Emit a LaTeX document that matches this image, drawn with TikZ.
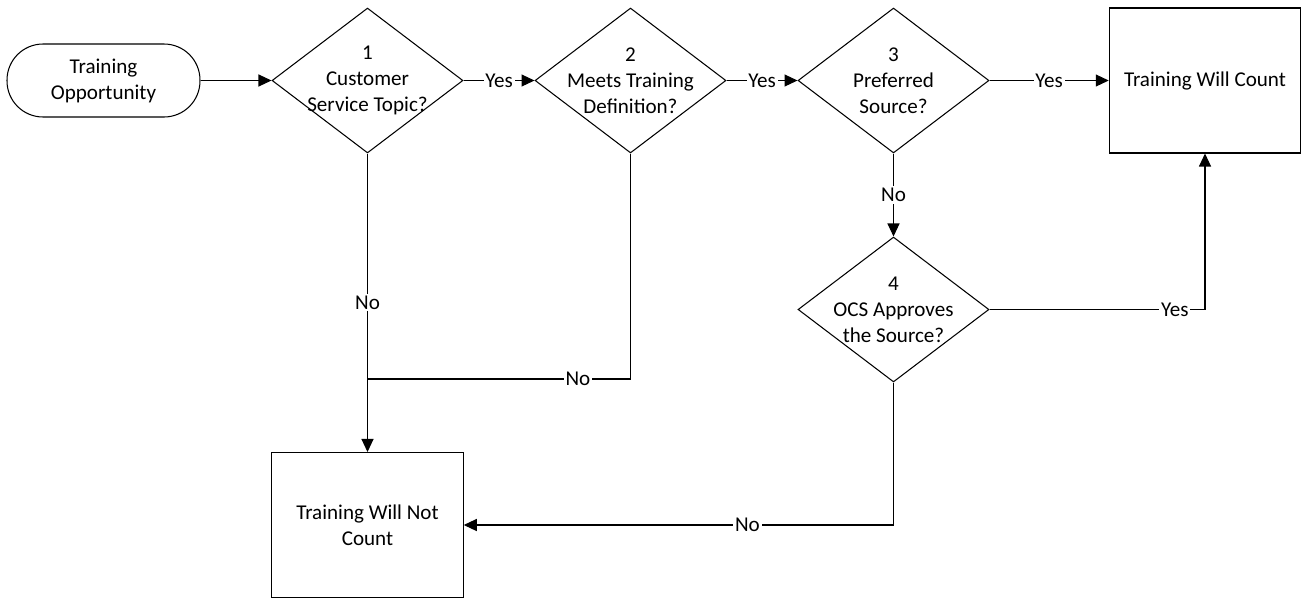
\documentclass[tikz,border=0pt]{standalone}
\usepackage{fontspec}
\setmainfont{Carlito}
\usetikzlibrary{shapes.geometric,arrows.meta}

\tikzset{
  term/.style={draw, rectangle, rounded corners=0.72cm, minimum width=3.86cm, minimum height=1.46cm, align=center},
  decision/.style={draw, diamond, minimum width=3.82cm, minimum height=2.9cm, inner sep=0pt},
  outcome/.style={draw, rectangle, minimum width=3.83cm, minimum height=2.9cm, align=center},
  answer/.style={fill=white, inner sep=1pt},
}

\begin{document}
\begin{tikzpicture}[x=0.02cm, y=-0.02cm, line width=0.6pt,
    font=\fontsize{12}{14.8}\selectfont,
    >={Triangle[length=0.26cm, width=0.24cm]}]
  \useasboundingbox (0,0) rectangle (1308,599);
  % define the nodes
  \node[term] (start) at (103.5,80.5) {Training\\Opportunity};
  \node[decision, label={[align=center]center:{1\\Customer\\Service Topic?}}] (d1) at (367.5,80.5) {};
  \node[decision, label={[align=center]center:{2\\Meets Training\\Definition?}}] (d2) at (630.5,80.5) {};
  \node[decision, label={[align=center]center:{3\\Preferred\\Source?}}] (d3) at (893.5,80.5) {};
  \node[decision, label={[align=center]center:{4\\OCS Approves\\the Source?}}] (d4) at (893.5,309.5) {};
  \node[outcome] (count) at (1205,80.5) {Training Will Count};
  \node[outcome] (notcount) at (367.5,525) {Training Will Not\\Count};
  \coordinate (join) at (367.5,379);
  % draw the connectors
  \draw[->] (start) -- (d1);
  \draw[->] (d1) -- node[answer]{Yes} (d2);
  \draw[->] (d2) -- node[answer]{Yes} (d3);
  \draw[->] (d3) -- node[answer]{Yes} (count);
  \draw[->] (d3) -- node[answer]{No} (d4);
  \draw[->] (d4.east) -| node[answer, pos=0.43]{Yes} (count.south);
  \draw[->] (d1) -- node[answer]{No} (notcount);
  \draw (d2.south) |- node[answer, pos=0.6]{No} (join);
  \draw[->] (d4.south) |- node[answer, pos=0.67]{No} (notcount.east);
\end{tikzpicture}
\end{document}
